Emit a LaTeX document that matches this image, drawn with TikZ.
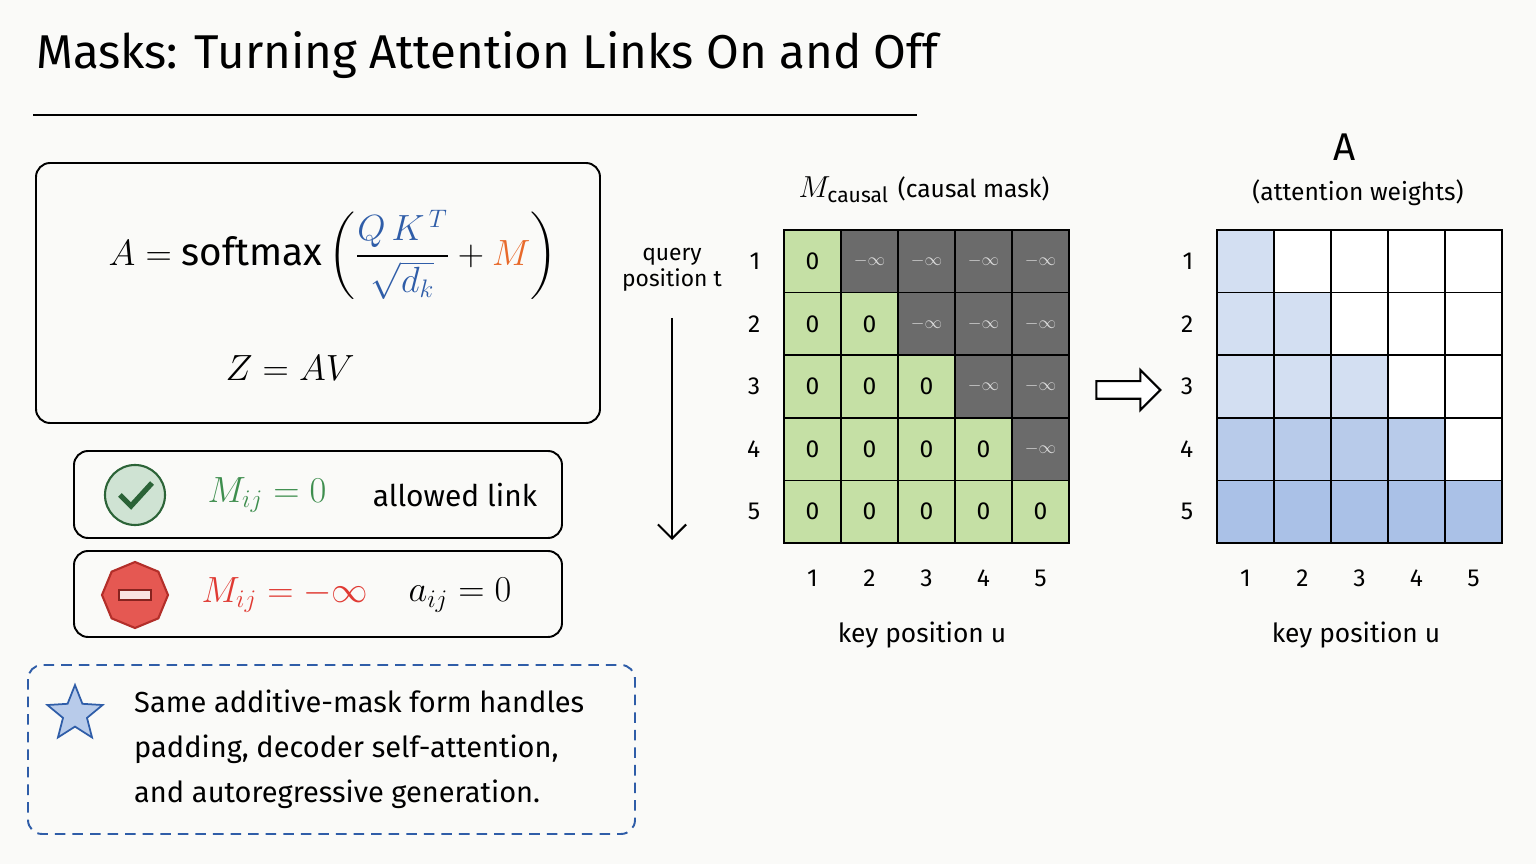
\documentclass[tikz,border=0pt]{standalone}
\usepackage{fontspec}
\setmainfont{Fira Sans}
\usepackage{amsmath}
\usetikzlibrary{arrows.meta,positioning,shapes.geometric,shapes.arrows}
\definecolor{bgc}{HTML}{FAFAF8}
\definecolor{cellg}{HTML}{C5E0A5}
\definecolor{celld}{HTML}{6B6B6B}
\definecolor{bl1}{HTML}{D3DFF2}
\definecolor{bl2}{HTML}{B8CBEA}
\definecolor{bl3}{HTML}{AAC1E7}
\definecolor{eqblue}{HTML}{2F5DA8}
\definecolor{eqorange}{HTML}{E8692A}
\definecolor{okgreen}{HTML}{3E8E4E}
\definecolor{nored}{HTML}{E03A33}
\begin{document}
\begin{tikzpicture}[x=0.02cm,y=-0.02cm,
  Box/.style={draw, line width=1.1pt, rounded corners=8pt},
  Cell/.style={draw, line width=0.9pt, minimum width=57*0.02cm, minimum height=62.6*0.02cm,
               inner sep=0pt, outer sep=0pt, font=\fontsize{14}{16}\selectfont},
  Lbl/.style={font=\fontsize{14}{16}\selectfont},
  ]
\fill[bgc] (0,0) rectangle (1536,864);
\useasboundingbox (0,0) rectangle (1536,864);
% title
\node[anchor=west, font=\fontsize{27}{32}\selectfont] (title) at (30,55) {Masks: Turning Attention Links On and Off};
\draw[line width=1.4pt] (33,115) -- (917,115);
% formula box
\draw[Box] (36,163) rectangle (600,423);
\node[font=\fontsize{22}{26}\selectfont] (eqA) at (333,255)
  {$A = \text{softmax}\left(\dfrac{\color{eqblue}Q\,K^{\,T}}{\color{eqblue}\sqrt{d_k}} + {\color{eqorange}M}\right)$};
\node[font=\fontsize{22}{26}\selectfont] (eqZ) at (290,368) {$Z = AV$};
% allowed / blocked
\draw[Box] (74,451) rectangle (562,538);
\node[circle, draw=okgreen!70!black, fill=okgreen!25, line width=1.2pt, minimum size=60*0.02cm] (ok) at (135,495) {};
\draw[okgreen!70!black, line width=3pt] (120,495) -- (131,506) -- (152,483);
\node[font=\fontsize{20}{24}\selectfont, text=okgreen] (mok) at (267,495) {$M_{ij} = 0$};
\node[font=\fontsize{17}{20}\selectfont] (allow) at (455,495) {allowed link};
\draw[Box] (74,551) rectangle (562,637);
\node[regular polygon, regular polygon sides=8, draw=nored!80!black, fill=nored!85, line width=1.2pt,
      minimum size=66*0.02cm, shape border rotate=22.5] (stop) at (135,595) {};
\draw[fill=white!85!nored, draw=nored!60!black, line width=1pt] (119,590) rectangle (151,600);
\node[font=\fontsize{20}{24}\selectfont, text=nored] (mno) at (285,595) {$M_{ij} = -\infty$};
\node[font=\fontsize{20}{24}\selectfont] (azero) at (460,595) {$a_{ij} = 0$};
% note
\draw[Box, draw=eqblue, dashed, dash pattern=on 6pt off 4pt] (28,665) rectangle (635,834);
\node[star, star points=5, star point ratio=2.3, draw=eqblue, fill=bl2, line width=1pt, minimum size=58*0.02cm] (star) at (75,714) {};
\node[anchor=north west, align=left, font=\fontsize{16.5}{25.5}\selectfont] (note) at (128,684)
  {Same additive-mask form handles\\padding, decoder self-attention,\\and autoregressive generation.};
% query axis
\node[align=center, font=\fontsize{13}{15}\selectfont] (query) at (672,270) {query\\position t};
\coordinate (qend) at (672,540);
\draw[-{Straight Barb[length=8pt]}, line width=1.2pt] (672,318) -- (qend);
% mask grid
\node[font=\fontsize{19}{22}\selectfont] (mtitle) at (924,190) {$M_{\text{\fontsize{12}{14}\selectfont causal}}$ {\fontsize{14}{16}\selectfont(causal mask)}};
\foreach \r in {1,...,5}{
  \foreach \c in {1,...,5}{
    \pgfmathtruncatemacro{\ok}{\c<=\r ? 1 : 0}
    \ifnum\ok=1
      \node[Cell, fill=cellg] (m\r\c) at ({784+57*(\c-0.5)},{230+62.6*(\r-0.5)}) {0};
    \else
      \node[Cell, fill=celld, text=white!85!black, font=\normalsize] (m\r\c) at ({784+57*(\c-0.5)},{230+62.6*(\r-0.5)}) {$-\infty$};
    \fi
  }
  \node[Lbl, left=10pt of m\r1] (mr\r) {\r};
}
\foreach \c in {1,...,5}
  \node[Lbl, below=12pt of m5\c] (mc\c) {\c};
\node[font=\fontsize{15}{18}\selectfont] (mkey) at (922,635) {key position u};
% arrow between grids
\node[single arrow, draw, line width=1.2pt, fill=white, minimum height=64*0.02cm, minimum width=40*0.02cm,
      single arrow head extend=5pt] (to) at (1124,390) {};
% attention grid
\node[font=\fontsize{22}{26}\selectfont] (atitle) at (1345,147) {A};
\node[font=\fontsize{14}{16}\selectfont] (asub) at (1358,193) {(attention weights)};
\foreach \r/\col in {1/bl1,2/bl1,3/bl1,4/bl2,5/bl3}{
  \foreach \c in {1,...,5}{
    \pgfmathtruncatemacro{\ok}{\c<=\r ? 1 : 0}
    \ifnum\ok=1
      \node[Cell, fill=\col] (a\r\c) at ({1217+57*(\c-0.5)},{230+62.6*(\r-0.5)}) {};
    \else
      \node[Cell, fill=white] (a\r\c) at ({1217+57*(\c-0.5)},{230+62.6*(\r-0.5)}) {};
    \fi
  }
  \node[Lbl, left=10pt of a\r1] (ar\r) {\r};
}
\foreach \c in {1,...,5}
  \node[Lbl, below=12pt of a5\c] (ac\c) {\c};
\node[font=\fontsize{15}{18}\selectfont] (akey) at (1356,635) {key position u};
\end{tikzpicture}
\end{document}
